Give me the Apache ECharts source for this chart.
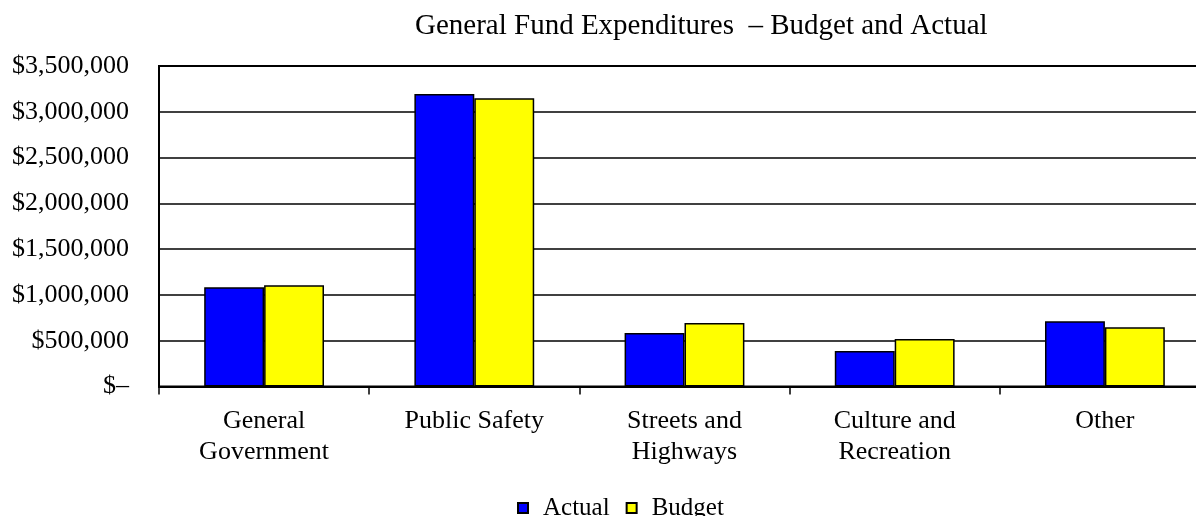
<!DOCTYPE html>
<html>
<head>
<meta charset="utf-8">
<title>General Fund Expenditures</title>
<script src="https://cdn.jsdelivr.net/npm/echarts@6/dist/echarts.min.js"></script>
<style>
  html, body { margin: 0; padding: 0; background: #fff; }
  #chart { width: 1196px; height: 516px; }
</style>
</head>
<body>
<div id="chart"></div>
<script>
// categories along the x axis (line breaks as in the original)
var categories = ['General\nGovernment', 'Public Safety', 'Streets and\nHighways', 'Culture and\nRecreation', 'Other']
// values, in dollars
var actualValues = [1084000, 3193000, 585000, 388000, 712000]
var budgetValues = [1105000, 3149000, 694000, 519000, 648000]
var seriesNames = ['Actual', 'Budget']
var titleText = 'General Fund Expenditures  \u2013 Budget and Actual'

var serif = "'Liberation Serif', 'Times New Roman', serif"

function money(v) {
    if (v === 0) return '$\u2013'
    return '$' + v.toString().replace(/\B(?=(\d{3})+(?!\d))/g, ',')
}

var chart = echarts.init(document.getElementById('chart'), null, { renderer: 'canvas' })

var options = {
    backgroundColor: '#fff',
    animation: false,
    title: {
        text: titleText,
        left: 410,
        top: 7,
        textStyle: {
            fontFamily: serif,
            fontSize: 29,
            fontWeight: 'normal',
            color: '#000'
        }
    },
    legend: {
        data: seriesNames,
        left: 512,
        top: 490,
        itemWidth: 10,
        itemHeight: 10,
        itemGap: 16,
        icon: 'rect',
        textStyle: {
            fontFamily: serif,
            fontSize: 25,
            color: '#000',
            lineHeight: 26,
            padding: [0, 0, 0, 10]
        }
    },
    grid: {
        left: 159,
        top: 66,
        width: 1051,
        height: 320.5,
        outerBoundsMode: 'none',
        containLabel: false,
        show: true,
        borderColor: '#000',
        borderWidth: 2,
        backgroundColor: 'transparent'
    },
    xAxis: {
        type: 'category',
        data: categories,
        axisLine: { lineStyle: { color: '#000', width: 2 } },
        axisTick: { show: true, length: 8, lineStyle: { color: '#000', width: 1.5 } },
        axisLabel: {
            margin: 19,
            fontFamily: serif,
            fontSize: 26,
            lineHeight: 31,
            color: '#000',
            interval: 0
        }
    },
    yAxis: {
        type: 'value',
        min: 0,
        max: 3500000,
        interval: 500000,
        axisLine: { show: true, lineStyle: { color: '#000', width: 2 } },
        axisTick: { show: false },
        splitLine: { show: true, lineStyle: { color: '#000', width: 1.5 } },
        axisLabel: {
            margin: 30,
            fontFamily: serif,
            fontSize: 26,
            color: '#000',
            formatter: money
        }
    },
    series: [
        {
            name: seriesNames[0],
            type: 'bar',
            data: actualValues,
            barGap: '0%',
            barCategoryGap: '43%',
            itemStyle: { color: '#0000ff', borderColor: '#000', borderWidth: 1.5 }
        },
        {
            name: seriesNames[1],
            type: 'bar',
            data: budgetValues,
            barGap: '0%',
            barCategoryGap: '43%',
            itemStyle: { color: '#ffff00', borderColor: '#000', borderWidth: 1.5 }
        }
    ]
}

chart.setOption(options)
</script>
</body>
</html>
